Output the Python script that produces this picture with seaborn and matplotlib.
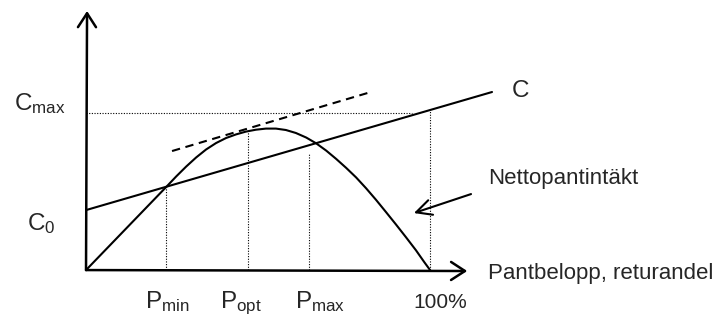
import matplotlib
matplotlib.use("Agg")
import matplotlib.pyplot as plt
import seaborn as sns
import pandas as pd

# Nettopantintäkt (kurvan): x = returandel i %, y = % av Cmax
andel = [0, 23.3, 26.2, 29.1, 32.0, 34.9, 37.8, 40.7, 43.6, 46.5, 49.4, 52.3,
         55.2, 58.1, 61.0, 64.0, 66.9, 69.8, 72.7, 75.6, 78.5, 81.4, 84.3,
         87.2, 90.1, 93.0, 95.9, 98.3, 100]
netto = [0, 52.9, 59.6, 65.9, 71.7, 76.8, 80.9, 84.1, 86.4, 88.2, 89.4, 90.1,
         90.1, 89.2, 87.3, 84.4, 80.7, 76.1, 70.8, 65.1, 59.0, 52.1, 44.7,
         36.9, 29.0, 20.9, 12.6, 5.1, 0]

# Kostnadslinjen C (start- och slutpunkt)
c_x = [0, 118.0]
c_y = [38.2, 113.4]

# Tangenten (streckad) vid Popt
tang_x = [25.0, 82.8]
tang_y = [75.8, 113.4]

# Markerade punkter på x-axeln och hjälplinjernas höjd
p_namn = ["min", "opt", "max"]
p_x = [23.3, 47.1, 64.8]
p_topp = [52.9, 88.5, 74.5]
c_max = 100
c_max_slut = 94.8
hundra_topp = 101.9

sns.set_style("white")
plt.rcParams["font.family"] = ["Liberation Sans", "DejaVu Sans"]
plt.rcParams["mathtext.fontset"] = "custom"
plt.rcParams["mathtext.rm"] = "Liberation Sans"

fig = plt.figure(figsize=(7.16, 3.2), dpi=100)
ax = fig.add_axes([0, 0, 1, 1])
ax.set_xlim(-25.0, 183.1)
ax.set_ylim(-31.8, 172.0)
ax.axis("off")

kurva = pd.DataFrame({"andel": andel, "netto": netto})
sns.lineplot(data=kurva, x="andel", y="netto", ax=ax, color="black", lw=1.5,
             estimator=None, sort=False)
sns.lineplot(x=c_x, y=c_y, ax=ax, color="black", lw=1.5, estimator=None)
sns.lineplot(x=tang_x, y=tang_y, ax=ax, color="black", lw=1.5, estimator=None,
             linestyle=(0, (4, 2.7)))

# prickade hjälplinjer
prick = (0, (1, 1.4))
ax.plot([0, c_max_slut], [c_max, c_max], color="black", lw=0.8, linestyle=prick)
ax.plot([100, 100], [0, hundra_topp], color="black", lw=0.8, linestyle=prick)
for x, topp in zip(p_x, p_topp):
    ax.plot([x, x], [0, topp], color="black", lw=0.8, linestyle=prick)

# axlar med pilar
pil = dict(arrowstyle="->,head_length=10,head_width=6.5", lw=1.8, color="black",
           shrinkA=0, shrinkB=0, mutation_scale=1)
ax.annotate("", xy=(0.3, 165), xytext=(0, 0), arrowprops=pil)
ax.annotate("", xy=(110.8, -0.6), xytext=(0, 0), arrowprops=pil)
ax.annotate("", xy=(95.3, 36.3), xytext=(111.9, 48.4),
            arrowprops=dict(arrowstyle="->,head_length=11,head_width=5.5", lw=1.5,
                            color="black", shrinkA=0, shrinkB=0, mutation_scale=1))

# texter
ax.text(-20.9, 101.9, r"$\mathregular{C_{max}}$", fontsize=17.5, va="baseline")
ax.text(-17.2, 25.5, r"$\mathregular{C_{0}}$", fontsize=17.5, va="baseline")
ax.text(123.8, 110, "C", fontsize=17.5, va="baseline")
ax.text(116.9, 54.8, "Nettopantintäkt", fontsize=16, va="baseline")
ax.text(116.9, -5.7, "Pantbelopp, returandel", fontsize=16, va="baseline")
for namn, x in zip(p_namn, [17.2, 39.0, 60.8]):
    ax.text(x, -24.2, r"$\mathregular{P_{%s}}$" % namn, fontsize=17.5, va="baseline")
ax.text(95.1, -24.2, "100%", fontsize=15, va="baseline")

plt.savefig("out.png", dpi=100)
